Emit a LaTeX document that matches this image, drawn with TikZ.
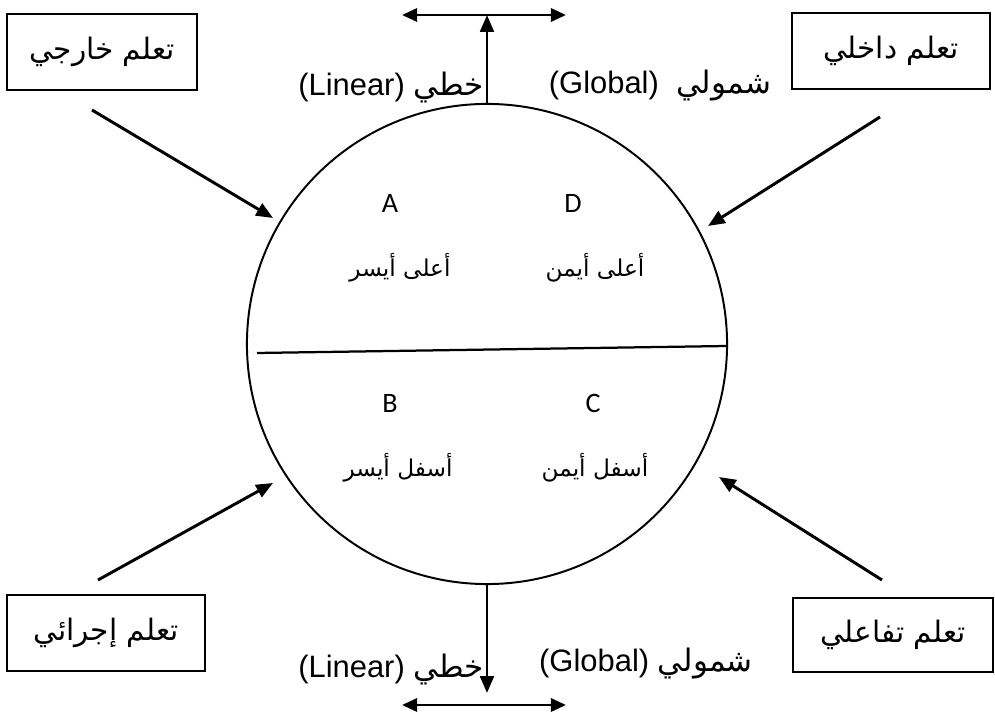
\documentclass[tikz,border=0pt]{standalone}
\usepackage{fontspec}
\setmainfont{Liberation Sans}
\newfontfamily\arabicfont[Script=Arabic]{DejaVu Sans}
\newfontfamily\letterfont{Carlito}
\TeXXeTstate=1
\usetikzlibrary{arrows.meta}

\tikzset{
  learnbox/.style={draw, line width=1.4pt, inner sep=0pt, minimum height=1.9cm,
    font={\arabicfont\fontsize{21}{25}\selectfont}},
  inarrow/.style={line width=2.1pt, -{Triangle[length=0.42cm,width=0.34cm]}},
  dirarrow/.style={line width=2.1pt, {Triangle[length=0.38cm,width=0.33cm]}-{Triangle[length=0.38cm,width=0.33cm]}},
  dirlabel/.style={font={\fontsize{22}{26}\selectfont}, inner sep=0pt},
  quadletter/.style={font={\letterfont\fontsize{20}{24}\selectfont}, inner sep=0pt},
  quadtext/.style={font={\arabicfont\fontsize{16.5}{20}\selectfont}, inner sep=0pt}
}

\begin{document}
\begin{tikzpicture}[x=0.025cm, y=-0.025cm]
            \useasboundingbox (0,0) rectangle (995,720);

            % circle and divider
            \node[circle, draw, line width=1.4pt, minimum size=12cm, inner sep=0pt] (brain) at (487,344) {};
            \coordinate (divL) at (257,353);
            \coordinate (divR) at (727,346);
            \draw[line width=1.6pt] (divL) -- (divR);

            % quadrants
            \node[quadletter] (qA) at (390,203) {A};
            \node[quadletter] (qD) at (573,203) {D};
            \node[quadletter] (qB) at (390,403) {B};
            \node[quadletter] (qC) at (593,403) {C};
            \node[quadtext] (tA) at (400,268) {\beginR أعلى أيسر\endR};
            \node[quadtext] (tD) at (595,268) {\beginR أعلى أيمن\endR};
            \node[quadtext] (tB) at (398,468) {\beginR أسفل أيسر\endR};
            \node[quadtext] (tC) at (595,468) {\beginR أسفل أيمن\endR};

            % the four boxes
            \node[learnbox, minimum width=4.73cm] (outer) at (102,52) {\beginR تعلم خارجي\endR};
            \node[learnbox, minimum width=4.93cm] (inner) at (891,51) {\beginR تعلم داخلي\endR};
            \node[learnbox, minimum width=4.93cm] (proc) at (106,633) {\beginR تعلم إجرائي\endR};
            \node[learnbox, minimum width=5cm, minimum height=1.85cm] (interact) at (893,635) {\beginR تعلم تفاعلي\endR};

            % arrows towards the circle
            \coordinate (outerS) at (92,110);
            \coordinate (outerE) at (273,218);
            \coordinate (innerS) at (880,117);
            \coordinate (innerE) at (708,226);
            \coordinate (procS) at (98,580);
            \coordinate (procE) at (273,483);
            \coordinate (interS) at (882,580);
            \coordinate (interE) at (719,477);
            \draw[inarrow] (outerS) -- (outerE);
            \draw[inarrow] (innerS) -- (innerE);
            \draw[inarrow] (procS) -- (procE);
            \draw[inarrow] (interS) -- (interE);

            % top direction
            \coordinate (topM) at (487,15);
            \coordinate (topL) at (402,15);
            \coordinate (topR) at (566,15);
            \draw[inarrow] (brain.north) -- (topM);
            \draw[dirarrow] (topL) -- (topR);
            \node[dirlabel] (linTop) at (391,88) {(Linear)\ {\arabicfont\beginR خطي\endR}};
            \node[dirlabel] (globTop) at (660,86) {(Global)\ \ {\arabicfont\beginR شمولي\endR}};

            % bottom direction
            \coordinate (botM) at (487,693);
            \coordinate (botL) at (402,705);
            \coordinate (botR) at (566,705);
            \draw[inarrow] (brain.south) -- (botM);
            \draw[dirarrow] (botL) -- (botR);
            \node[dirlabel] (linBot) at (391,670) {(Linear)\ {\arabicfont\beginR خطي\endR}};
            \node[dirlabel] (globBot) at (646,664) {(Global)\ {\arabicfont\beginR شمولي\endR}};

\end{tikzpicture}
\end{document}
